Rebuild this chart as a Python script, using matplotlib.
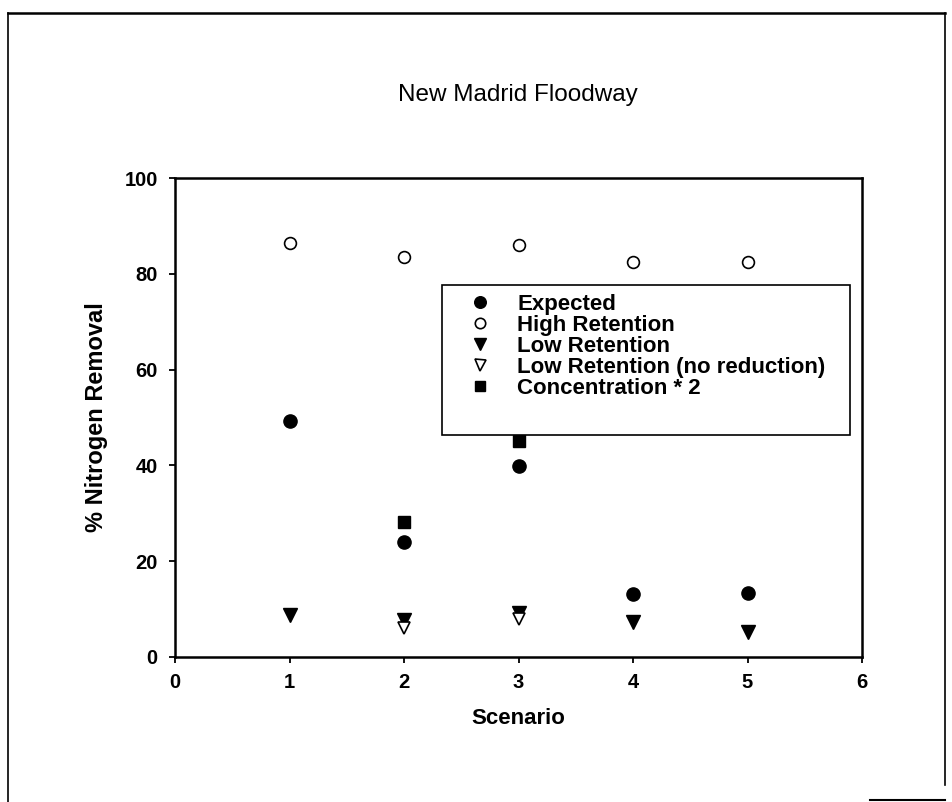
import matplotlib
matplotlib.use("Agg")
import matplotlib.pyplot as plt
from matplotlib.lines import Line2D
from matplotlib.patches import Rectangle

scenarios = [1, 2, 3, 4, 5]
expected = [49.3, 24.1, 39.8, 13.2, 13.4]
high_retention = [86.5, 83.6, 86.0, 82.5, 82.5]
low_retention = [8.7, 7.8, 9.1, 7.4, 5.2]
low_nored_x = [2, 3]
low_nored = [6.1, 7.9]
conc2_x = [2, 3]
conc2 = [28.1, 45.0]

plt.rcParams['font.family'] = ['Liberation Sans', 'DejaVu Sans']

fig = plt.figure(figsize=(9.53, 8.02), dpi=100)
W, H = 953, 802
ax = fig.add_axes([175 / W, 1 - 657 / H, 687 / W, 479 / H])

ms = 9.5
ax.plot(scenarios, expected, 'o', color='black', markersize=ms, label='Expected', clip_on=False, zorder=2)
ax.plot(scenarios, high_retention, 'o', markerfacecolor='white', markeredgecolor='black',
        markeredgewidth=1.2, markersize=ms - 1, label='High Retention', clip_on=False, zorder=2)
ax.plot(scenarios, low_retention, 'v', color='black', markersize=ms, label='Low Retention', clip_on=False, zorder=2)
ax.plot(low_nored_x, low_nored, 'v', markerfacecolor='white', markeredgecolor='black',
        markeredgewidth=1.2, markersize=ms - 0.5, label='Low Retention (no reduction)', clip_on=False, zorder=2)
ax.plot(conc2_x, conc2, 's', color='black', markersize=8, label='Concentration * 2', clip_on=False, zorder=2)

ax.set_xlim(0, 6)
ax.set_ylim(0, 100)
ax.set_xticks(range(0, 7))
ax.set_yticks(range(0, 101, 20))
for s in ax.spines.values():
    s.set_linewidth(1.8)
ax.tick_params(axis='both', direction='out', length=4.5, width=1.3, labelsize=14.5)
ax.tick_params(axis='x', pad=7)
ax.tick_params(axis='y', pad=8)
for lab in ax.get_xticklabels() + ax.get_yticklabels():
    lab.set_fontweight('bold')

ax.set_xlabel('Scenario', fontsize=16, fontweight='bold')
ax.set_ylabel('% Nitrogen Removal', fontsize=17, fontweight='bold')
ax.xaxis.set_label_coords(0.5, -0.106)
ax.yaxis.set_label_coords(-0.098, 0.5)

fig.text(518 / W, 1 - 95 / H, 'New Madrid Floodway', ha='center', va='center', fontsize=17.5)

# legend box
box = Rectangle((0.3886, 0.4635), 0.5939, 0.3132, transform=ax.transAxes, facecolor='white',
                edgecolor='black', linewidth=1.2, zorder=3)
ax.add_patch(box)
leg = ax.legend(loc='upper left', bbox_to_anchor=(0.4282, 0.7582), frameon=False,
                prop={'weight': 'bold', 'size': 16}, handletextpad=1.167, labelspacing=0.0,
                borderpad=0, markerscale=0.88, handlelength=1.0, borderaxespad=0)
leg.set_zorder(4)

# figure border
fig.add_artist(Line2D([8 / W, 945 / W], [1 - 13 / H, 1 - 13 / H], color='black', lw=1.8))
fig.add_artist(Line2D([8 / W, 8 / W], [1 - 13 / H, 0], color='black', lw=1.2))
fig.add_artist(Line2D([945 / W, 945 / W], [1 - 13 / H, 1 - 785 / H], color='black', lw=1.2))
fig.add_artist(Line2D([870 / W, 945 / W], [1 - 800 / H, 1 - 800 / H], color='black', lw=1.5))

fig.savefig('out.png', dpi=100)
